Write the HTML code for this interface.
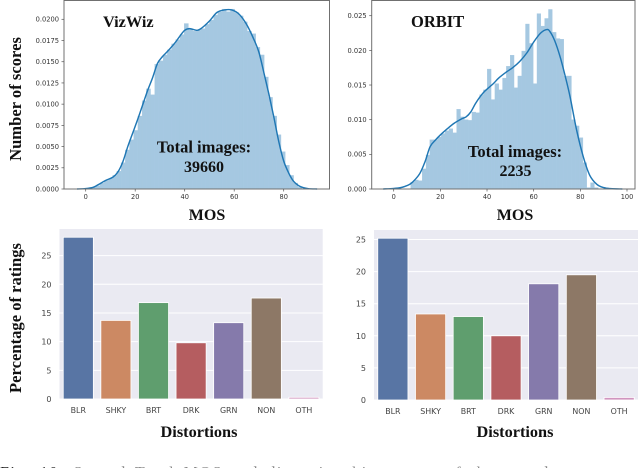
<!DOCTYPE html>
<html>
<head>
<meta charset="utf-8">
<title>MOS and distortion histograms</title>
<style>
html,body{margin:0;padding:0;background:#fff;width:640px;height:468px;overflow:hidden}
svg{display:block;filter:blur(0.35px)}
.st{font-family:"Liberation Serif",serif;font-weight:bold;fill:#111}
.tk{font-family:"DejaVu Sans",sans-serif;fill:#333}
.tb{font-family:"DejaVu Sans",sans-serif;fill:#444}
</style>
</head>
<body>
<svg id="fig" xmlns="http://www.w3.org/2000/svg" width="640" height="468" viewBox="0 0 640 468">
  <g id="p1"></g>
  <g id="p2"></g>
  <g id="p3"></g>
  <g id="p4"></g>

  <text class="st" x="103" y="27" font-size="16.3">VizWiz</text>
  <text class="st" x="411" y="27" font-size="16.5">ORBIT</text>
  <text class="st" x="204" y="152.5" font-size="16.5" text-anchor="middle">Total images:</text>
  <text class="st" x="204" y="172" font-size="16" text-anchor="middle">39660</text>
  <text class="st" x="515" y="157" font-size="16.5" text-anchor="middle">Total images:</text>
  <text class="st" x="515.5" y="176" font-size="16" text-anchor="middle">2235</text>
  <text class="st" x="207" y="220" font-size="16" text-anchor="middle">MOS</text>
  <text class="st" x="515" y="220" font-size="16" text-anchor="middle">MOS</text>
  <text class="st" transform="translate(21,99) rotate(-90)" font-size="16.6" text-anchor="middle">Number of scores</text>
  <text class="st" transform="translate(21,318) rotate(-90)" font-size="16.6" text-anchor="middle">Percentage of ratings</text>
  <text class="st" x="199" y="437" font-size="16.3" text-anchor="middle">Distortions</text>
  <text class="st" x="515" y="437" font-size="16.3" text-anchor="middle">Distortions</text>
  <text x="0" y="477.3" font-family="'Liberation Serif',serif" font-size="16" fill="#222" word-spacing="3" letter-spacing="1.5">Fig. 10: <tspan fill="#888">Scored Total MOS and distortion histograms of the two datasets</tspan></text>
</svg>
<script>
// ---- VizWiz density panel data ----
const vizBinStart = 2.4;
const vizBinWidth = 1.7;
const vizBins = [.0002,.0004,.0007,.001,.0012,.0016,.0021,.0031,.0046,.0058,.0069,.0086,.0104,.0118,.0111,.0147,.0151,.0158,.0164,.0171,.0176,.0182,.0195,.0188,.0186,.0187,.0189,.0194,.0199,.0205,.0209,.0212,.0209,.0212,.0208,.0204,.0197,.0186,.0183,.0167,.0158,.0132,.0108,.0086,.0064,.0044,.0028,.0016,.0007,.0002];
const vizKdeX = [-3.5,0,3,5,8,11,13,15,17,19,21,23,25,27,29,31,33,36,38,40,42,45,47,50,53,56,59,62,65,68,70,72,74,76,78,80,82,84,86,88,90,93.5];
const vizKdeY = [0,.00005,.0002,.0005,.001,.0014,.002,.0032,.005,.0066,.0082,.0099,.0116,.0131,.0148,.0156,.0162,.0172,.018,.0187,.0189,.0187,.019,.0198,.0208,.0211,.0211,.0206,.0194,.0176,.0161,.0137,.0112,.0085,.0056,.0033,.0019,.0009,.0004,.00015,.00004,0];
const vizXTicks = [0,20,40,60,80];
const vizYTicks = [0,.0025,.005,.0075,.01,.0125,.015,.0175,.02];
const vizYLabels = ["0.0000","0.0025","0.0050","0.0075","0.0100","0.0125","0.0150","0.0175","0.0200"];

// ---- ORBIT density panel data ----
const orbBinStart = 7.3;
const orbBinWidth = 1.64;
const orbBins = [.001,.0013,.0012,.0029,.0049,.0071,.0071,.0075,.008,.0084,.0087,.0081,.0115,.0104,.01,.0099,.0111,.011,.0136,.0143,.0173,.0129,.0152,.0143,.016,.0177,.0193,.0146,.0163,.0199,.0238,.021,.0152,.0253,.0235,.0246,.0259,.0226,.0217,.0216,.0163,.0163,.01,.0091,.0074,.0038,.0002,.0009,.0002];
const orbKdeX = [-4.5,0,3,5,7,9,11.3,13.5,15.6,18,20,23,26,29,31,33,35,37,39,42.7,45,48.4,51,54,57,60,63,65.6,67,69,71.3,73.5,75.6,78.4,81.3,84,87,90,93,98];
const orbKdeY = [0,.00008,.0002,.0004,.0007,.0013,.0023,.004,.0061,.0071,.0078,.0087,.0095,.0101,.0104,.0111,.0123,.0133,.0141,.0152,.016,.0169,.0175,.0184,.0196,.0212,.0225,.023,.0227,.0214,.0191,.0163,.0133,.0085,.0046,.002,.0007,.0002,.00005,0];
const orbXTicks = [0,20,40,60,80,100];
const orbYTicks = [0,.005,.01,.015,.02,.025];
const orbYLabels = ["0.000","0.005","0.010","0.015","0.020","0.025"];

// ---- Distortion bar panel data ----
const categories = ["BLR","SHKY","BRT","DRK","GRN","NON","OTH"];
const vizPercent = [28.2,13.7,16.8,9.8,13.3,17.6,0.3];
const orbPercent = [25.2,13.4,13.0,10.0,18.1,19.5,0.4];
const pctTicks = [0,5,10,15,20,25];
const barColors = ["#5875a4","#cc8963","#5f9e6e","#b55d60","#857aab","#8d7866","#d095bf"];

const NS = "http://www.w3.org/2000/svg";
function mk(parent, tag, attrs, txt) {
  const el = document.createElementNS(NS, tag);
  for (const k in attrs) el.setAttribute(k, attrs[k]);
  if (txt !== undefined) el.textContent = txt;
  parent.appendChild(el);
  return el;
}
function linear(d0, d1, r0, r1) {
  return v => r0 + (v - d0) * (r1 - r0) / (d1 - d0);
}
function smoothPath(xs, ys, sx, sy) {
  const p = xs.map((x, i) => [sx(x), sy(ys[i])]);
  let d = "M" + p[0][0].toFixed(2) + " " + p[0][1].toFixed(2);
  for (let i = 0; i < p.length - 1; i++) {
    const a = p[Math.max(i - 1, 0)], b = p[i], c = p[i + 1], e = p[Math.min(i + 2, p.length - 1)];
    d += " C" + (b[0] + (c[0] - a[0]) / 6).toFixed(2) + " " + (b[1] + (c[1] - a[1]) / 6).toFixed(2) +
         " " + (c[0] - (e[0] - b[0]) / 6).toFixed(2) + " " + (c[1] - (e[1] - b[1]) / 6).toFixed(2) +
         " " + c[0].toFixed(2) + " " + c[1].toFixed(2);
  }
  return d;
}

function densityPanel(g, box, sx, sy, binStart, binWidth, bins, kx, ky, xt, yt, yl) {
  bins.forEach((v, i) => {
    const x0 = sx(binStart + i * binWidth), x1 = sx(binStart + (i + 1) * binWidth);
    const bar = mk(g, "rect", {x: x0, y: sy(v), width: x1 - x0, height: sy(0) - sy(v), fill: "#a5c8e1", stroke: "#a5c8e1", "stroke-width": 0.35});
    
    
  });
  const line = mk(g, "path", {d: smoothPath(kx, ky, sx, sy), fill: "none", stroke: "#1f77b4", "stroke-width": 1.45});
  
  
  const frame = mk(g, "rect", {x: box.l, y: box.t, width: box.r - box.l, height: box.b - box.t, fill: "none", stroke: "#707070", "stroke-width": 1});
  
  
  xt.forEach(v => {
    const t = mk(g, "line", {x1: sx(v), x2: sx(v), y1: box.b, y2: box.b + 2.5, stroke: "#555", "stroke-width": .7});
    
    
    const l = mk(g, "text", {class: "tk", x: sx(v), y: box.b + 10, "font-size": 6.6, "text-anchor": "middle"}, String(v));
    
    
  });
  yt.forEach((v, i) => {
    const t = mk(g, "line", {x1: box.l - 2.5, x2: box.l, y1: sy(v), y2: sy(v), stroke: "#555", "stroke-width": .7});
    
    
    const l = mk(g, "text", {class: "tk", x: box.l - 5, y: sy(v) + 2.4, "font-size": 6.7, "text-anchor": "end"}, yl[i]);
    
    
  });
}

function barPanel(g, box, sy, values) {
  const bg = mk(g, "rect", {x: box.l, y: box.t, width: box.r - box.l, height: box.b - box.t, fill: "#eaeaf2"});
  
  
  pctTicks.forEach(v => {
    const gl = mk(g, "line", {x1: box.l, x2: box.r, y1: sy(v), y2: sy(v), stroke: "#fff", "stroke-width": 1});
    
    
    const l = mk(g, "text", {class: "tb", x: box.l - 8, y: sy(v) + 3, "font-size": 8, "text-anchor": "end"}, String(v));
    
    
  });
  const step = (box.r - box.l) / categories.length;
  categories.forEach((c, i) => {
    const cx = box.l + step * (i + 0.5);
    const w = step * 0.8;
    const bar = mk(g, "rect", {x: cx - w / 2, y: sy(values[i]), width: w, height: sy(0) - sy(values[i]), fill: barColors[i], stroke: "#fff", "stroke-width": .8});
    
    
    const l = mk(g, "text", {class: "tb", x: cx, y: box.b + 14, "font-size": 7.9, "text-anchor": "middle"}, c);
    
    
  });
}

densityPanel(document.getElementById("p1"), {l: 64, r: 329.5, t: 0.5, b: 189},
  linear(0, 80, 85.7, 283.7), linear(0, .02, 189, 19.3),
  vizBinStart, vizBinWidth, vizBins, vizKdeX, vizKdeY, vizXTicks, vizYTicks, vizYLabels);
densityPanel(document.getElementById("p2"), {l: 371.7, r: 635, t: 0.5, b: 189},
  linear(0, 100, 393.7, 627), linear(0, .025, 189, 15.7),
  orbBinStart, orbBinWidth, orbBins, orbKdeX, orbKdeY, orbXTicks, orbYTicks, orbYLabels);
barPanel(document.getElementById("p3"), {l: 59.5, r: 322.7, t: 229, b: 399}, linear(0, 25, 399, 255.6), vizPercent);
barPanel(document.getElementById("p4"), {l: 374, r: 638, t: 230, b: 400}, linear(0, 25, 400, 239.5), orbPercent);
</script>
</body>
</html>
